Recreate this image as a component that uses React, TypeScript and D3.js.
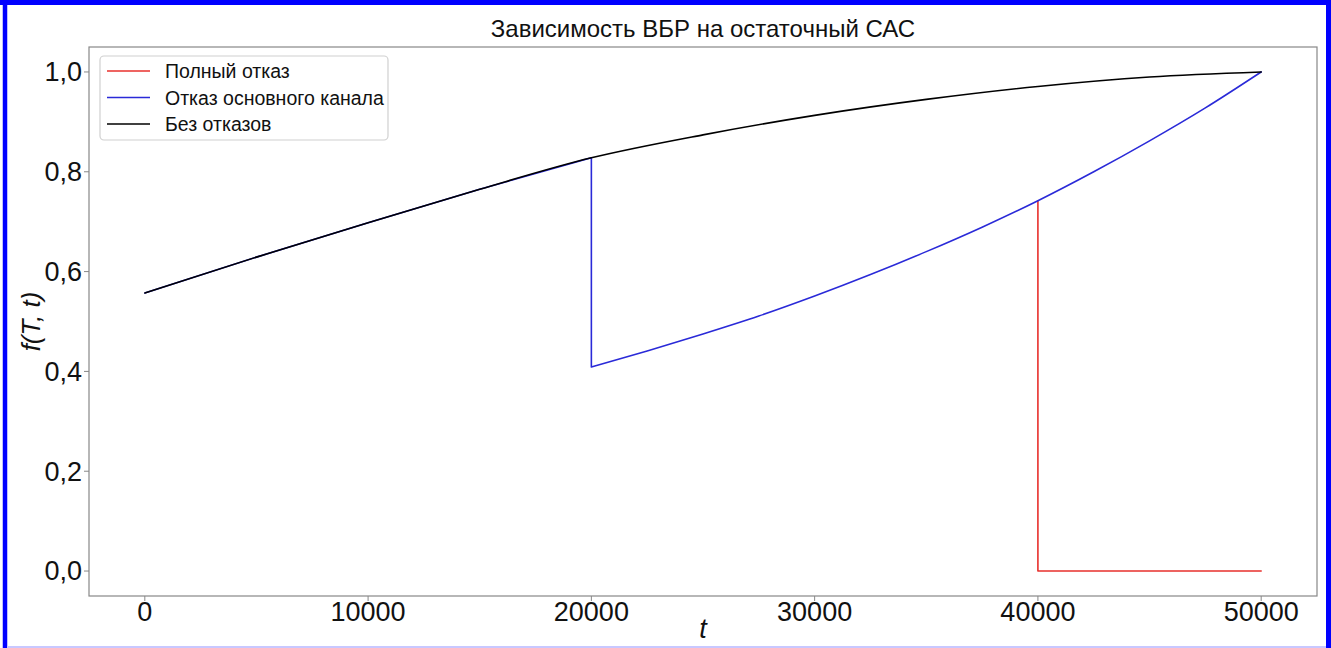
import { line, curveMonotoneX, scaleLinear } from "d3"

const W = 1331
const H = 648

// t values and curves
const tGrid = [0, 5000, 10000, 15000, 20000, 25000, 30000, 35000, 40000, 45000, 50000]
const noFailure = [0.557, 0.629, 0.698, 0.765, 0.828, 0.874, 0.913, 0.945, 0.971, 0.990, 1.0]

const tAfterMain = [20000, 22500, 25000, 27500, 30000, 32500, 35000, 37500, 40000, 42500, 45000, 47500, 50000]
const mainChannel = [0.409, 0.441, 0.475, 0.511, 0.551, 0.594, 0.640, 0.689, 0.742, 0.800, 0.862, 0.928, 1.0]

const tFull = [40000, 50000]
const fullFailure = [0, 0]

const xTicks = [0, 10000, 20000, 30000, 40000, 50000]
const yTicks = [0, 0.2, 0.4, 0.6, 0.8, 1.0]

const seriesNames = ["Полный отказ", "Отказ основного канала", "Без отказов"]
const seriesColors = ["#e8302c", "#2a2ad8", "#000000"]

const margin = { left: 89, top: 47, right: 14, bottom: 52 }
// no serif face is installed, so the sans one stands in
const font = { fontFamily: "Liberation Sans, Arial, sans-serif" }

const App = () => {
    const x = scaleLinear().domain([-2500, 52500]).range([margin.left, W - margin.right])
    const y = scaleLinear().domain([-0.05, 1.05]).range([H - margin.bottom, margin.top])

    const zip = (ts, vs) => ts.map((t, i) => [t, vs[i]])
    const curve = line().x(d => x(d[0])).y(d => y(d[1])).curve(curveMonotoneX)
    const straight = line().x(d => x(d[0])).y(d => y(d[1]))

    const blackPts = zip(tGrid, noFailure)
    const beforeMain = blackPts.filter(d => d[0] <= 20000)
    const bluePts = zip(tAfterMain, mainChannel)
    const blueUntilFull = bluePts.filter(d => d[0] <= 40000)
    const mainJump = [beforeMain[beforeMain.length - 1], bluePts[0]]
    const fullPts = zip(tFull, fullFailure)
    const fullJump = [blueUntilFull[blueUntilFull.length - 1], fullPts[0]]

    // red only where it leaves the blue curve (under blue it would tint it purple)
    const redPath = straight(fullJump) + straight(fullPts)
    const bluePath = curve(beforeMain) + straight(mainJump) + curve(bluePts)
    const blackPath = curve(blackPts)
    const paths = [redPath, bluePath, blackPath]

    const x0 = margin.left
    const x1 = W - margin.right
    const y0 = margin.top
    const y1 = H - margin.bottom
    const fmt = v => v.toFixed(1).replace(".", ",")

    return (
        <svg width={W} height={H} style={{ position: "absolute", left: 0, top: 0, background: "#fff" }}>
            {/* blue frame round the picture */}
            <line x1={5} y1={0} x2={5} y2={H} stroke="#0000ff" strokeWidth={4.5} />
            <line x1={0} y1={2.5} x2={W} y2={2.5} stroke="#0000ff" strokeWidth={5} />
            <line x1={1328.5} y1={0} x2={1328.5} y2={H} stroke="#0000ff" strokeWidth={5} />
            <line x1={7} y1={647} x2={1326} y2={647} stroke="#c8c8ff" strokeWidth={2} />

            <text x={(x0 + x1) / 2} y={37} textAnchor="middle" style={font} fontSize={24} fill="#111">
                Зависимость ВБР на остаточный САС
            </text>

            {paths.map((p, i) => (
                <path key={i} d={p} fill="none" stroke={seriesColors[i]} strokeWidth={1.6} strokeLinejoin="round" strokeLinecap="round" />
            ))}

            <rect x={x0} y={y0} width={x1 - x0} height={y1 - y0} fill="none" stroke="#888" strokeWidth={1.2} />

            {xTicks.map(t => (
                <g key={t}>
                    <line x1={x(t)} x2={x(t)} y1={y1} y2={y1 + 5} stroke="#888" />
                    <text x={x(t)} y={621} textAnchor="middle" style={font} fontSize={27} fill="#111">{t}</text>
                </g>
            ))}
            {yTicks.map(v => (
                <g key={v}>
                    <line x1={x0 - 5} x2={x0} y1={y(v)} y2={y(v)} stroke="#888" />
                    <text x={x0 - 7} y={y(v)} dy="0.35em" textAnchor="end" style={font} fontSize={27} fill="#111">{fmt(v)}</text>
                </g>
            ))}

            <text x={(x0 + x1) / 2} y={638} textAnchor="middle" style={font} fontStyle="italic" fontSize={27} fill="#111">t</text>
            <text transform={`translate(40,${(y0 + y1) / 2}) rotate(-90)`} textAnchor="middle" style={font} fontStyle="italic" fontSize={26} fill="#111">f(T, t)</text>

            <rect x={100} y={56} width={288} height={84} rx={4} fill="#fff" fillOpacity={0.8} stroke="#d0d0d0" strokeWidth={1.2} />
            {seriesNames.map((name, i) => (
                <g key={name}>
                    <line x1={107} x2={150} y1={71 + i * 26.5} y2={71 + i * 26.5} stroke={seriesColors[i]} strokeWidth={1.6} />
                    <text x={165} y={78 + i * 26.5} style={font} fontSize={19.5} fill="#111">{name}</text>
                </g>
            ))}
        </svg>
    )
}

export default App
